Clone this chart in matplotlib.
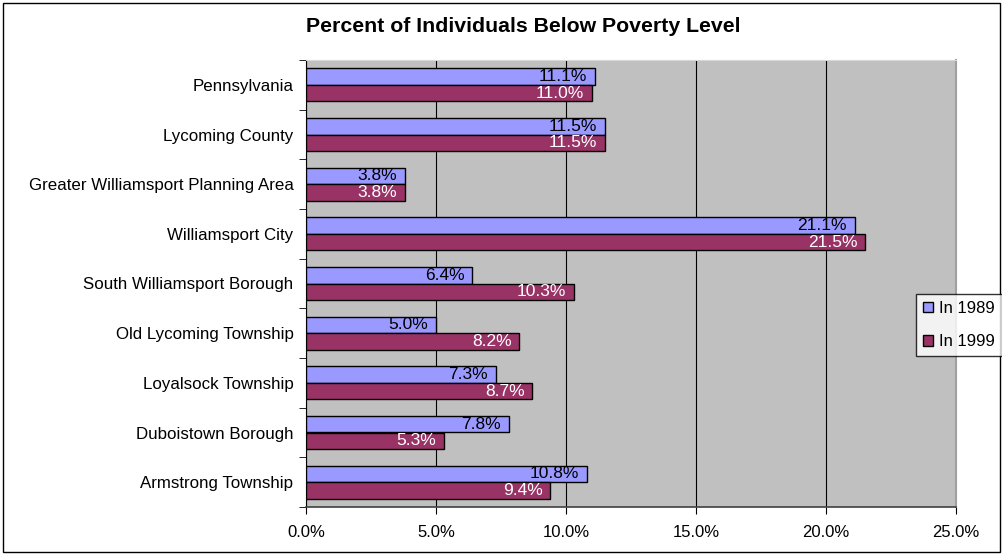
import matplotlib
matplotlib.use("Agg")
import matplotlib.pyplot as plt
from matplotlib.patches import Rectangle
from matplotlib.ticker import FixedLocator, PercentFormatter
import numpy as np

plt.rcParams['font.family'] = ['Liberation Sans', 'DejaVu Sans']

categories = [
    "Pennsylvania",
    "Lycoming County",
    "Greater Williamsport Planning Area",
    "Williamsport City",
    "South Williamsport Borough",
    "Old Lycoming Township",
    "Loyalsock Township",
    "Duboistown Borough",
    "Armstrong Township",
]
in_1989 = [11.1, 11.5, 3.8, 21.1, 6.4, 5.0, 7.3, 7.8, 10.8]
in_1999 = [11.0, 11.5, 3.8, 21.5, 10.3, 8.2, 8.7, 5.3, 9.4]
series_names = ["In 1989", "In 1999"]
x_ticks = [0, 5, 10, 15, 20, 25]

color_1989 = "#9999FF"
color_1999 = "#993366"
plot_bg = "#C0C0C0"

W, H = 1003, 554
fig = plt.figure(figsize=(W / 100, H / 100), dpi=100)
fig.patch.set_facecolor("white")

# outer chart border
fig.add_artist(Rectangle((3 / W, 2 / H), (W - 6) / W, (H - 5) / H,
                         transform=fig.transFigure, fill=False,
                         edgecolor="black", linewidth=1.0))

left, right, top, bottom = 306, 956, 60, 507
ax = fig.add_axes([left / W, 1 - bottom / H, (right - left) / W, (bottom - top) / H])
ax.set_facecolor(plot_bg)

n = len(categories)
centers = np.arange(n)
bh = 0.335

bars1 = ax.barh(centers - bh / 2, in_1989, height=bh, color=color_1989,
                edgecolor="black", linewidth=1.0, label=series_names[0], zorder=3)
bars2 = ax.barh(centers + bh / 2, in_1999, height=bh, color=color_1999,
                edgecolor="black", linewidth=1.0, label=series_names[1], zorder=3)

for y, v in zip(centers - bh / 2, in_1989):
    ax.text(v - 0.3, y, f"{v:.1f}%", ha="right", va="center",
            fontsize=12.5, color="black", zorder=4)
for y, v in zip(centers + bh / 2, in_1999):
    ax.text(v - 0.3, y, f"{v:.1f}%", ha="right", va="center",
            fontsize=12.5, color="white", zorder=4)

ax.set_xlim(0, 25)
ax.set_ylim(n - 0.5, -0.5)

ax.xaxis.set_major_locator(FixedLocator(x_ticks))
ax.xaxis.set_major_formatter(PercentFormatter(decimals=1))
ax.grid(axis="x", color="black", linewidth=0.8, zorder=1)

# category labels centred on groups, tick marks at group boundaries
ax.set_yticks(centers)
ax.set_yticklabels(categories, fontsize=12.2)
ax.tick_params(axis="y", length=0, pad=9)
ax.set_yticks(np.arange(n + 1) - 0.5, minor=True)
ax.tick_params(axis="y", which="minor", length=5, direction="out", color="black")
ax.tick_params(axis="x", length=5, direction="out", labelsize=12, pad=8)

ax.spines["top"].set_color("#D8D8D8")
ax.spines["right"].set_color("#A0A0A0")
ax.spines["right"].set_linewidth(1.5)
ax.spines["left"].set_color("black")
ax.spines["bottom"].set_color("#404040")
ax.spines["bottom"].set_linewidth(1.2)

fig.text(523 / W, 1 - 26 / H, "Percent of Individuals Below Poverty Level",
         ha="center", va="center", fontsize=15.3, fontweight="bold")

leg = fig.legend(handles=[bars1, bars2], labels=series_names,
                 loc="center", bbox_to_anchor=(959 / W, 1 - 325 / H),
                 fontsize=12, frameon=True, fancybox=False, shadow=False,
                 handlelength=0.6, handleheight=0.6, handletextpad=0.35,
                 borderpad=0.4, labelspacing=1.1, borderaxespad=0)
leg.get_frame().set_edgecolor("black")
leg.get_frame().set_linewidth(1.0)

fig.savefig("out.png", dpi=100)
